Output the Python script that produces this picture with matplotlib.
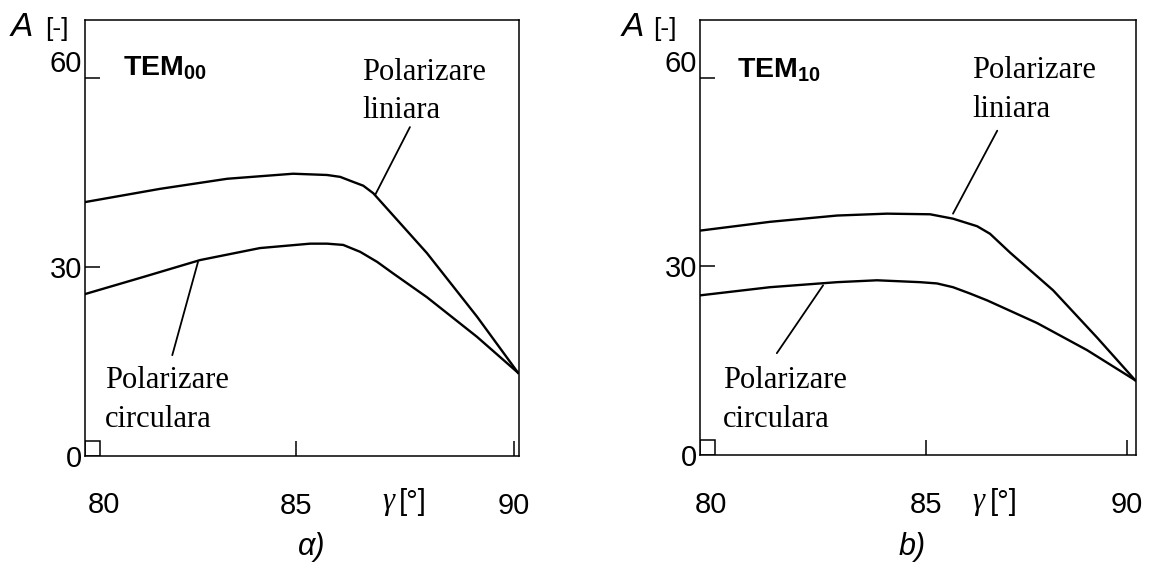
import matplotlib.pyplot as plt
from matplotlib.patches import Rectangle

plt.rcParams['font.family'] = ['Liberation Sans', 'DejaVu Sans']
plt.rcParams['mathtext.fontset'] = 'custom'
plt.rcParams['mathtext.rm'] = 'Liberation Sans'
plt.rcParams['mathtext.bf'] = 'Liberation Sans:bold'

# panel a) TEM00
a_lin_x = [80.16, 81.88, 83.42, 84.93, 85.71, 86.01, 86.31, 86.54, 86.77, 88.0, 89.15, 90.09]
a_lin_y = [40.3, 42.4, 44.0, 44.8, 44.6, 44.3, 43.5, 42.9, 41.7, 32.2, 22.1, 13.2]
a_circ_x = [80.16, 81.49, 82.80, 84.17, 85.32, 85.71, 86.08, 86.47, 86.86, 87.22, 88.0, 89.15, 90.09]
a_circ_y = [25.7, 28.4, 31.1, 33.0, 33.7, 33.7, 33.5, 32.4, 30.8, 29.0, 25.2, 18.9, 13.2]

# panel b) TEM10
b_lin_x = [79.38, 81.12, 82.79, 84.03, 85.10, 85.67, 85.92, 86.27, 86.59, 87.09, 88.16, 89.25, 90.20]
b_lin_y = [35.7, 37.1, 38.1, 38.4, 38.3, 37.6, 37.1, 36.4, 35.2, 32.2, 26.2, 18.7, 11.9]
b_circ_x = [79.38, 81.12, 82.79, 83.78, 84.85, 85.27, 85.67, 86.09, 86.52, 87.76, 89.0, 90.20]
b_circ_y = [25.4, 26.7, 27.5, 27.8, 27.5, 27.3, 26.7, 25.7, 24.6, 21.0, 16.7, 11.9]

y_ticks = [0, 30, 60]
x_ticks = [85, 90]

panels = [
    dict(pos=[0.0737, 0.1972, 0.3760, 0.7676], xlim=(80.16, 90.11),
         lin=(a_lin_x, a_lin_y), circ=(a_circ_x, a_circ_y),
         lin_lead=((87.61, 52.2), (86.81, 41.4)), circ_lead=((82.16, 16.0), (82.75, 30.8)),
         tem=r"$\mathbf{TEM}_{\mathbf{00}}$", tem_xy=(0.1066, 0.868),
         lin_txt=(0.3137, 0.859, 0.7923), circ_txt=(0.091, 0.3169, 0.2482),
         a_x=(0.0095, 0.039), x80=0.0901, gam=0.331, tag="α)", tag_x=0.270),
    dict(pos=[0.6066, 0.1989, 0.3778, 0.7658], xlim=(79.38, 90.22),
         lin=(b_lin_x, b_lin_y), circ=(b_circ_x, b_circ_y),
         lin_lead=((86.77, 51.6), (85.67, 38.4)), circ_lead=((81.29, 16.2), (82.44, 27.0)),
         tem=r"$\mathbf{TEM}_{\mathbf{10}}$", tem_xy=(0.6386, 0.8644),
         lin_txt=(0.8423, 0.8627, 0.794), circ_txt=(0.6265, 0.3169, 0.2482),
         a_x=(0.539, 0.5659), x80=0.6161, gam=0.843, tag="b)", tag_x=0.790),
]

fig = plt.figure(figsize=(11.54, 5.68), dpi=100)

for p in panels:
    ax = fig.add_axes(p["pos"])
    ax.plot(*p["lin"], color="black", lw=1.7)
    ax.plot(*p["circ"], color="black", lw=1.7)
    ax.annotate("", xy=p["lin_lead"][1], xytext=p["lin_lead"][0],
                arrowprops=dict(arrowstyle="-", lw=1.3, color="black", shrinkA=0, shrinkB=0))
    ax.annotate("", xy=p["circ_lead"][1], xytext=p["circ_lead"][0],
                arrowprops=dict(arrowstyle="-", lw=1.3, color="black", shrinkA=0, shrinkB=0))
    ax.set_xlim(*p["xlim"])
    ax.set_ylim(0, 69.2)
    ax.set_xticks(x_ticks)
    ax.set_yticks(y_ticks)
    ax.tick_params(direction="in", length=11, width=1.1, labelsize=21)
    ax.tick_params(axis="x", pad=26)
    ax.tick_params(axis="y", pad=2)
    ax.yaxis.get_major_ticks()[0].tick1line.set_visible(False)
    ax.yaxis.get_major_ticks()[2].label1.set_va("bottom")
    for s in ax.spines.values():
        s.set_linewidth(1.1)
    # axis break square at the origin
    ax.add_patch(Rectangle((0, 0), 15 / 434, 15 / 436, transform=ax.transAxes,
                           fill=False, lw=1.1, color="black"))

    fig.text(p["tem_xy"][0], p["tem_xy"][1], p["tem"], fontsize=20.5)
    tx, y1, y2 = p["lin_txt"]
    fig.text(tx, y1, "Polarizare", family="Liberation Serif", fontsize=22, va="baseline")
    fig.text(tx, y2, "liniara", family="Liberation Serif", fontsize=22, va="baseline")
    tx, y1, y2 = p["circ_txt"]
    fig.text(tx, y1, "Polarizare", family="Liberation Serif", fontsize=22, va="baseline")
    fig.text(tx, y2, "circulara", family="Liberation Serif", fontsize=22, va="baseline")

    fig.text(p["a_x"][0], 0.9366, "A", style="italic", fontsize=24, va="baseline")
    fig.text(p["a_x"][1], 0.9366, "[-]", fontsize=19, va="baseline")
    fig.text(p["x80"], 0.1115, "80", fontsize=21, va="center", ha="center")
    fig.text(p["gam"], 0.1162, "γ", family="Liberation Serif", style="italic",
             fontsize=22, va="center")
    fig.text(p["gam"] + 0.0145, 0.1162, "[°]", fontsize=21, va="center")
    fig.text(p["tag_x"], 0.037, p["tag"], style="italic", fontsize=22, va="center", ha="center")

fig.savefig("out.png", dpi=100)
